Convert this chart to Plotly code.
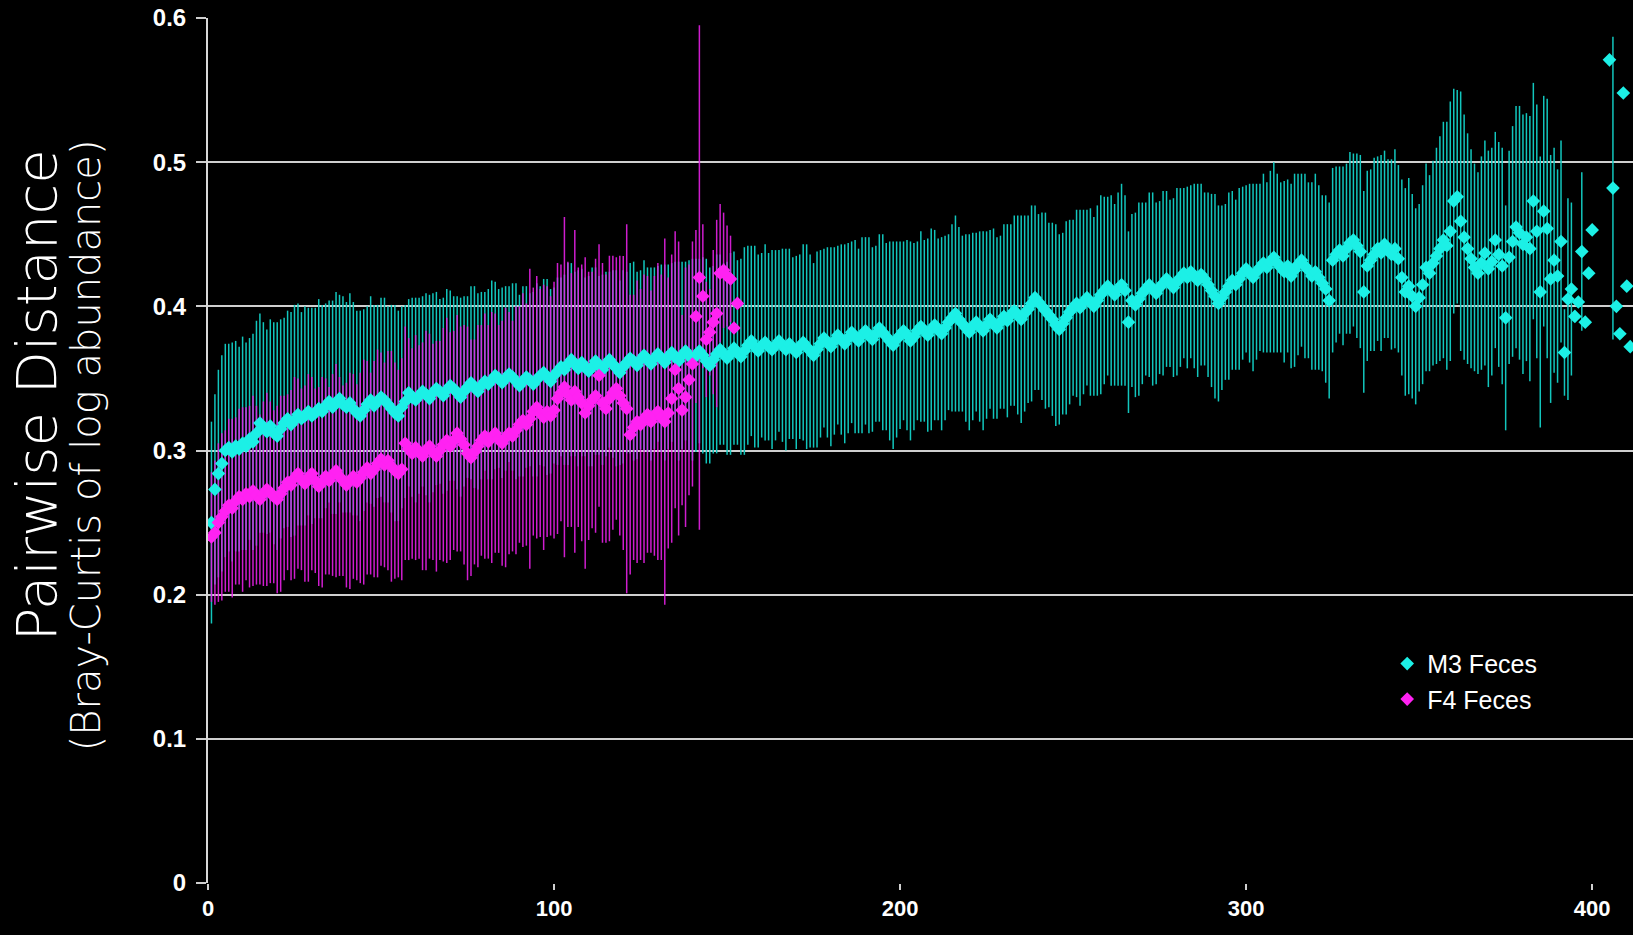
import plotly.graph_objects as go

# Pairwise Bray-Curtis distance (log abundance), mean +/- error per position
m3_mean = [
    0.250, 0.273, 0.284, 0.291, 0.300, 0.302, 0.299, 0.303, 0.301, 0.305,
    0.303, 0.308, 0.306, 0.312, 0.319, 0.316, 0.313, 0.317, 0.312, 0.310,
    0.315, 0.319, 0.322, 0.318, 0.321, 0.325, 0.322, 0.324, 0.327, 0.324,
    0.326, 0.329, 0.327, 0.331, 0.334, 0.330, 0.333, 0.336, 0.332, 0.330,
    0.333, 0.329, 0.326, 0.324, 0.328, 0.332, 0.335, 0.331, 0.334, 0.337,
    0.335, 0.332, 0.329, 0.326, 0.324, 0.330, 0.334, 0.340, 0.337, 0.335,
    0.338, 0.341, 0.339, 0.336, 0.340, 0.343, 0.341, 0.338, 0.342, 0.345,
    0.343, 0.340, 0.337, 0.341, 0.344, 0.347, 0.344, 0.341, 0.345, 0.348,
    0.346, 0.349, 0.352, 0.350, 0.347, 0.350, 0.353, 0.351, 0.348, 0.345,
    0.348, 0.351, 0.349, 0.346, 0.349, 0.352, 0.354, 0.351, 0.348, 0.352,
    0.355, 0.358, 0.356, 0.360, 0.363, 0.360, 0.357, 0.361, 0.358, 0.355,
    0.358, 0.362, 0.359, 0.356, 0.360, 0.363, 0.360, 0.357, 0.354, 0.358,
    0.361, 0.364, 0.362, 0.359, 0.363, 0.366, 0.363, 0.360, 0.364, 0.367,
    0.364, 0.361, 0.365, 0.368, 0.365, 0.362, 0.366, 0.369, 0.366, 0.363,
    0.366, 0.369, 0.366, 0.362, 0.359, 0.363, 0.367, 0.370, 0.367, 0.364,
    0.367, 0.371, 0.368, 0.365, 0.369, 0.373, 0.376, 0.372, 0.369, 0.373,
    0.375, 0.372, 0.370, 0.373, 0.376, 0.373, 0.370, 0.374, 0.371, 0.368,
    0.372, 0.375, 0.372, 0.369, 0.366, 0.370, 0.374, 0.378, 0.375, 0.372,
    0.376, 0.380, 0.377, 0.374, 0.378, 0.382, 0.379, 0.376, 0.380, 0.383,
    0.380, 0.377, 0.381, 0.385, 0.382, 0.379, 0.376, 0.373, 0.377, 0.380,
    0.383, 0.380, 0.376, 0.379, 0.383, 0.386, 0.383, 0.380, 0.384, 0.387,
    0.384, 0.381, 0.385, 0.389, 0.392, 0.395, 0.391, 0.388, 0.385, 0.382,
    0.386, 0.389, 0.386, 0.383, 0.387, 0.391, 0.388, 0.385, 0.389, 0.393,
    0.390, 0.394, 0.397, 0.394, 0.391, 0.395, 0.398, 0.402, 0.406, 0.403,
    0.400, 0.397, 0.394, 0.391, 0.387, 0.384, 0.388, 0.392, 0.396, 0.399,
    0.402, 0.399, 0.403, 0.406, 0.403, 0.400, 0.404, 0.408, 0.411, 0.414,
    0.411, 0.408, 0.412, 0.415, 0.411, 0.389, 0.404, 0.401, 0.405, 0.409,
    0.412, 0.415, 0.412, 0.409, 0.413, 0.416, 0.419, 0.416, 0.413, 0.417,
    0.420, 0.423, 0.420, 0.424, 0.421, 0.418, 0.422, 0.419, 0.415, 0.411,
    0.407, 0.402, 0.406, 0.410, 0.414, 0.418, 0.415, 0.419, 0.423, 0.426,
    0.423, 0.420, 0.424, 0.427, 0.430, 0.427, 0.431, 0.434, 0.430, 0.427,
    0.424, 0.428, 0.421, 0.425, 0.429, 0.432, 0.428, 0.425, 0.421, 0.424,
    0.420, 0.416, 0.412, 0.404, 0.432, 0.436, 0.439, 0.435, 0.440, 0.444,
    0.446, 0.442, 0.438, 0.410, 0.428, 0.432, 0.436, 0.440, 0.437, 0.443,
    0.440, 0.436, 0.440, 0.433, 0.420, 0.410, 0.414, 0.407, 0.400, 0.406,
    0.415, 0.427, 0.423, 0.430, 0.435, 0.440, 0.446, 0.442, 0.452, 0.473,
    0.476, 0.459, 0.448, 0.440, 0.433, 0.427, 0.423, 0.430, 0.437, 0.426,
    0.431, 0.446, 0.436, 0.428, 0.392, 0.434, 0.445, 0.455, 0.451, 0.443,
    0.448, 0.440, 0.473, 0.452, 0.410, 0.466, 0.454, 0.419, 0.432, 0.421,
    0.445, 0.368, 0.405, 0.412, 0.393, 0.403, 0.438, 0.389, 0.423, 0.453,
    None, None, None, None, 0.571, 0.482, 0.400, 0.381, 0.548, 0.414,
    0.372,
]
m3_err = [
    0.070, 0.066, 0.072, 0.075, 0.074, 0.072, 0.076, 0.073, 0.071, 0.074,
    0.072, 0.070, 0.075, 0.078, 0.076, 0.073, 0.071, 0.074, 0.077, 0.079,
    0.076, 0.073, 0.075, 0.078, 0.080, 0.077, 0.074, 0.076, 0.072, 0.075,
    0.073, 0.076, 0.074, 0.071, 0.070, 0.074, 0.077, 0.072, 0.075, 0.073,
    0.076, 0.074, 0.071, 0.073, 0.070, 0.068, 0.072, 0.070, 0.067, 0.069,
    0.071, 0.068, 0.072, 0.075, 0.073, 0.070, 0.067, 0.065, 0.069, 0.071,
    0.068, 0.066, 0.070, 0.072, 0.069, 0.067, 0.064, 0.068, 0.070, 0.066,
    0.064, 0.067, 0.069, 0.066, 0.063, 0.067, 0.070, 0.068, 0.065, 0.062,
    0.066, 0.069, 0.065, 0.062, 0.066, 0.064, 0.061, 0.065, 0.068, 0.063,
    0.066, 0.063, 0.060, 0.064, 0.067, 0.062, 0.065, 0.068, 0.064, 0.061,
    0.065, 0.062, 0.066, 0.070, 0.067, 0.064, 0.068, 0.065, 0.062, 0.066,
    0.069, 0.065, 0.062, 0.066, 0.064, 0.061, 0.065, 0.068, 0.064, 0.067,
    0.063, 0.066, 0.069, 0.065, 0.062, 0.066, 0.064, 0.067, 0.063, 0.061,
    0.065, 0.068, 0.064, 0.062, 0.066, 0.069, 0.065, 0.062, 0.066, 0.070,
    0.067, 0.064, 0.068, 0.071, 0.068, 0.065, 0.069, 0.066, 0.063, 0.067,
    0.070, 0.067, 0.064, 0.068, 0.072, 0.069, 0.066, 0.070, 0.067, 0.064,
    0.068, 0.065, 0.069, 0.066, 0.063, 0.067, 0.070, 0.066, 0.063, 0.067,
    0.064, 0.068, 0.071, 0.067, 0.064, 0.068, 0.065, 0.062, 0.066, 0.069,
    0.065, 0.062, 0.066, 0.069, 0.066, 0.063, 0.067, 0.064, 0.068, 0.065,
    0.068, 0.064, 0.061, 0.065, 0.068, 0.065, 0.069, 0.072, 0.068, 0.065,
    0.062, 0.066, 0.069, 0.065, 0.062, 0.066, 0.063, 0.067, 0.070, 0.066,
    0.063, 0.067, 0.064, 0.061, 0.065, 0.068, 0.064, 0.061, 0.065, 0.068,
    0.065, 0.062, 0.066, 0.069, 0.065, 0.062, 0.066, 0.063, 0.060, 0.064,
    0.067, 0.063, 0.066, 0.069, 0.072, 0.068, 0.065, 0.068, 0.064, 0.061,
    0.065, 0.068, 0.064, 0.067, 0.070, 0.066, 0.063, 0.067, 0.064, 0.061,
    0.065, 0.068, 0.064, 0.061, 0.065, 0.062, 0.066, 0.069, 0.065, 0.062,
    0.066, 0.063, 0.067, 0.070, 0.066, 0.063, 0.060, 0.064, 0.067, 0.063,
    0.060, 0.064, 0.067, 0.063, 0.060, 0.064, 0.061, 0.058, 0.062, 0.065,
    0.062, 0.059, 0.063, 0.060, 0.064, 0.067, 0.063, 0.060, 0.064, 0.067,
    0.071, 0.068, 0.064, 0.061, 0.065, 0.062, 0.059, 0.063, 0.060, 0.058,
    0.062, 0.065, 0.061, 0.058, 0.062, 0.059, 0.063, 0.066, 0.062, 0.059,
    0.063, 0.060, 0.064, 0.067, 0.063, 0.060, 0.064, 0.061, 0.065, 0.068,
    0.064, 0.061, 0.065, 0.068, 0.064, 0.061, 0.058, 0.062, 0.059, 0.063,
    0.060, 0.064, 0.067, 0.070, 0.066, 0.063, 0.067, 0.064, 0.068, 0.065,
    0.062, 0.066, 0.069, 0.065, 0.068, 0.072, 0.075, 0.071, 0.068, 0.065,
    0.069, 0.072, 0.068, 0.071, 0.075, 0.078, 0.082, 0.086, 0.090, 0.078,
    0.074, 0.090, 0.085, 0.080, 0.076, 0.072, 0.070, 0.074, 0.078, 0.082,
    0.079, 0.075, 0.078, 0.082, 0.078, 0.074, 0.080, 0.084, 0.088, 0.090,
    0.086, 0.092, 0.082, 0.088, 0.094, 0.080, 0.090, 0.086, 0.078, 0.074,
    0.070, 0.030, 0.070, 0.060, 0.000, 0.000, 0.055, 0.000, 0.000, 0.000,
    0.000, 0.000, 0.000, 0.000, 0.000, 0.105, 0.000, 0.000, 0.000, 0.000,
    0.000,
]

f4_mean = [
    0.240, 0.243, 0.250, 0.254, 0.258, 0.262, 0.260, 0.265, 0.268, 0.266,
    0.270, 0.268, 0.272, 0.269, 0.266, 0.270, 0.273, 0.271, 0.268, 0.266,
    0.270, 0.274, 0.278, 0.276, 0.281, 0.284, 0.280, 0.277, 0.281, 0.284,
    0.279, 0.275, 0.278, 0.282, 0.279, 0.283, 0.286, 0.282, 0.279, 0.276,
    0.279, 0.282, 0.278, 0.281, 0.285, 0.288, 0.284, 0.287, 0.291, 0.294,
    0.290, 0.293, 0.289, 0.286, 0.284, 0.287, 0.305, 0.301, 0.298, 0.302,
    0.299, 0.296, 0.300, 0.303, 0.299, 0.296, 0.300, 0.304, 0.307, 0.303,
    0.307, 0.312, 0.308, 0.304, 0.298, 0.295, 0.299, 0.303, 0.307, 0.310,
    0.306, 0.309, 0.312, 0.308, 0.305, 0.309, 0.312, 0.310, 0.314, 0.318,
    0.321, 0.318, 0.322, 0.327, 0.330, 0.326, 0.323, 0.327, 0.324, 0.328,
    0.336, 0.340, 0.344, 0.339, 0.335, 0.341, 0.337, 0.333, 0.326, 0.331,
    0.335, 0.338, 0.352, 0.333, 0.329, 0.336, 0.340, 0.343, 0.338, 0.333,
    0.329, 0.311, 0.316, 0.320, 0.318, 0.322, 0.325, 0.320, 0.324, 0.327,
    0.323, 0.320, 0.326, 0.336, 0.356, 0.343, 0.328, 0.337, 0.349, 0.360,
    0.393, 0.420, 0.407, 0.377, 0.382, 0.389, 0.395, 0.423, 0.425, 0.421,
    0.419, 0.385, 0.402,
]
f4_err = [
    0.045, 0.050, 0.055, 0.058, 0.056, 0.060, 0.062, 0.058, 0.061, 0.064,
    0.060, 0.063, 0.066, 0.062, 0.059, 0.064, 0.067, 0.063, 0.060, 0.065,
    0.068, 0.064, 0.061, 0.066, 0.070, 0.066, 0.063, 0.068, 0.072, 0.067,
    0.064, 0.069, 0.073, 0.068, 0.065, 0.070, 0.074, 0.069, 0.066, 0.071,
    0.075, 0.071, 0.068, 0.073, 0.078, 0.074, 0.070, 0.075, 0.079, 0.074,
    0.071, 0.076, 0.080, 0.075, 0.072, 0.077, 0.081, 0.077, 0.073, 0.078,
    0.074, 0.079, 0.083, 0.078, 0.075, 0.080, 0.076, 0.081, 0.085, 0.079,
    0.076, 0.082, 0.078, 0.083, 0.088, 0.082, 0.078, 0.084, 0.080, 0.085,
    0.081, 0.087, 0.083, 0.079, 0.085, 0.090, 0.084, 0.080, 0.086, 0.082,
    0.088, 0.084, 0.104, 0.086, 0.091, 0.086, 0.092, 0.087, 0.083, 0.089,
    0.094, 0.089, 0.118, 0.092, 0.088, 0.112, 0.090, 0.096, 0.108, 0.093,
    0.089, 0.095, 0.091, 0.097, 0.093, 0.099, 0.095, 0.091, 0.097, 0.102,
    0.128, 0.097, 0.092, 0.098, 0.094, 0.100, 0.096, 0.091, 0.097, 0.103,
    0.099, 0.127, 0.094, 0.100, 0.096, 0.102, 0.066, 0.090, 0.080, 0.085,
    0.060, 0.175, 0.050, 0.040, 0.030, 0.050, 0.065, 0.048, 0.040, 0.035,
    0.030, 0.000, 0.000,
]

m3_x = list(range(1, len(m3_mean) + 1))
f4_x = list(range(1, len(f4_mean) + 1))

series_names = ["M3 Feces", "F4 Feces"]
x_ticks = [0, 100, 200, 300, 400]
y_ticks = [0, 0.1, 0.2, 0.3, 0.4, 0.5, 0.6]

CYAN_BAR = "#12c6bd"
CYAN_MARK = "#1cf0e6"
MAG_BAR = "rgba(228,32,228,0.9)"
MAG_MARK = "#ff22f2"

fig = go.Figure()

# error bars first so every marker sits above every bar
fig.add_trace(go.Scatter(
    x=m3_x, y=m3_mean, mode="markers", showlegend=False, hoverinfo="skip",
    marker=dict(size=2, color="rgba(0,0,0,0)"),
    error_y=dict(type="data", array=m3_err, symmetric=True, width=0,
                 thickness=1.5, color=CYAN_BAR),
))
fig.add_trace(go.Scatter(
    x=f4_x, y=f4_mean, mode="markers", showlegend=False, hoverinfo="skip",
    marker=dict(size=2, color="rgba(0,0,0,0)"),
    error_y=dict(type="data", array=f4_err, symmetric=True, width=0,
                 thickness=1.5, color=MAG_BAR),
))
fig.add_trace(go.Scatter(
    x=m3_x, y=m3_mean, mode="markers", name=series_names[0],
    legendgroup="m3",
    marker=dict(symbol="diamond", size=10.5, color=CYAN_MARK, line=dict(width=0)),
))
fig.add_trace(go.Scatter(
    x=f4_x, y=f4_mean, mode="markers", name=series_names[1],
    legendgroup="f4",
    marker=dict(symbol="diamond", size=10.5, color=MAG_MARK, line=dict(width=0)),
))

x_tick_font = dict(family="Liberation Sans, Arial, sans-serif", size=22,
                   color="white", weight="bold")
y_tick_font = dict(family="Liberation Sans, Arial, sans-serif", size=24,
                   color="white", weight="bold")

fig.update_layout(
    width=1633, height=935,
    margin=dict(l=208, r=0, t=18, b=52, pad=0),
    paper_bgcolor="black", plot_bgcolor="black",
    showlegend=True,
    legend=dict(
        x=0.8275, y=0.280, xanchor="left", yanchor="top",
        bgcolor="rgba(0,0,0,0)", borderwidth=0,
        font=dict(family="Liberation Sans, Arial, sans-serif", size=25,
                  color="white"),
        tracegroupgap=0, itemwidth=30,
    ),
    xaxis=dict(
        range=[0, 411.8], tickvals=x_ticks, ticktext=[str(v) for v in x_ticks],
        showgrid=False, zeroline=False, showline=False,
        ticks="outside", ticklen=6, tickcolor="#d0d0d0", tickwidth=1.5,
        tickfont=x_tick_font,
    ),
    yaxis=dict(
        range=[0, 0.6], tickvals=y_ticks, ticktext=[str(v) for v in y_ticks],
        showgrid=True, gridcolor="#cfcfcf", gridwidth=1.5,
        zeroline=False, showline=True, linecolor="#d8d8d8", linewidth=2,
        ticks="outside", ticklen=10, tickcolor="#cfcfcf", tickwidth=1.5,
        tickfont=y_tick_font, ticklabelstandoff=5,
    ),
    annotations=[
        dict(text="Pairwise Distance", textangle=-90, xref="paper",
             yref="paper", x=-0.1207, y=0.564, xanchor="center",
             yanchor="middle", showarrow=False,
             font=dict(family="DejaVu Sans", size=56, color="white",
                       weight=300)),
        dict(text="(Bray-Curtis of log abundance)", textangle=-90,
             xref="paper", yref="paper", x=-0.0856, y=0.506,
             xanchor="center", yanchor="middle", showarrow=False,
             font=dict(family="DejaVu Sans", size=40, color="white",
                       weight=300)),
    ],
)

fig.write_html("out.html")
